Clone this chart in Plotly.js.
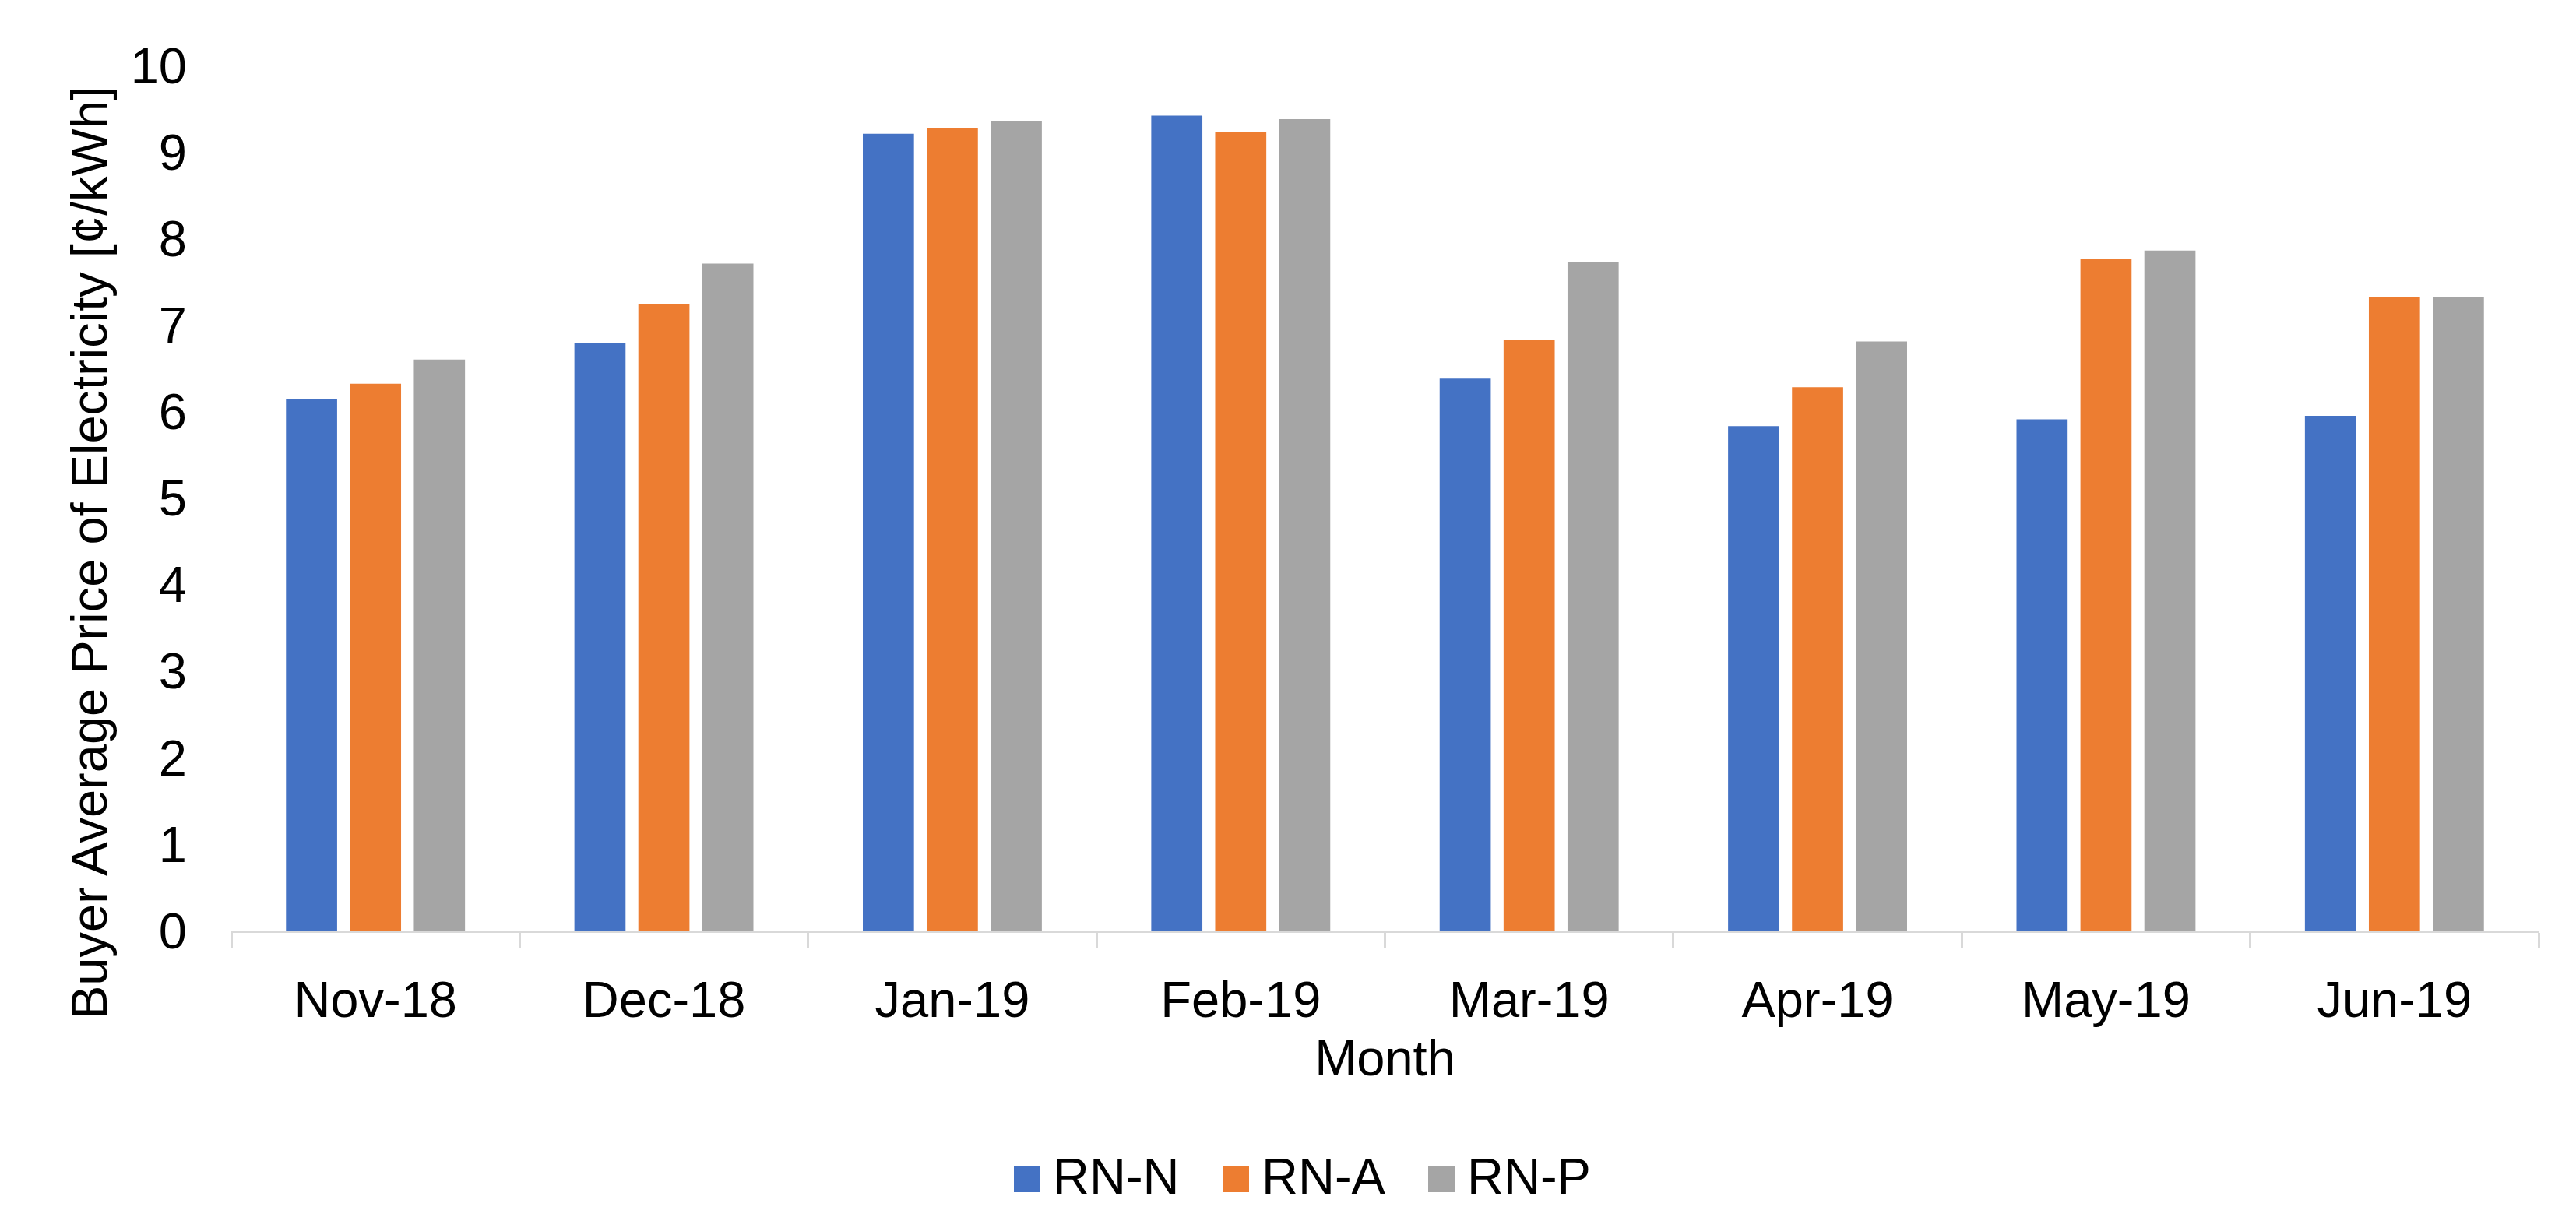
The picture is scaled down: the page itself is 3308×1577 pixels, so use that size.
<!DOCTYPE html>
<html>
<head>
<meta charset="utf-8">
<script src="https://cdn.plot.ly/plotly-3.0.1.min.js"></script>
<style>html,body{margin:0;padding:0;background:#fff;}#chart{width:3308px;height:1577px;}</style>
</head>
<body>
<div id="chart"></div>
<script>
const months = ["Nov-18","Dec-18","Jan-19","Feb-19","Mar-19","Apr-19","May-19","Jun-19"];
const rnN = [6.14, 6.79, 9.21, 9.42, 6.38, 5.83, 5.91, 5.95];
const rnA = [6.32, 7.24, 9.28, 9.23, 6.83, 6.28, 7.76, 7.32];
const rnP = [6.60, 7.71, 9.36, 9.38, 7.73, 6.81, 7.86, 7.32];
const seriesNames = ["RN-N","RN-A","RN-P"];
const colors = ["#4472C4","#ED7D31","#A5A5A5"];
const yTicks = [0,1,2,3,4,5,6,7,8,9,10];
const yTitle = "Buyer Average Price of Electricity [¢/kWh]";
const xTitle = "Month";

const W = 3308, H = 1577;
const M = {l: 297, r: 48, t: 84, b: 382};
const PW = W - M.l - M.r, PH = H - M.t - M.b;
const px = X => (X - M.l) / PW;          // pixel -> paper x
const py = Y => (H - M.b - Y) / PH;      // pixel -> paper y

const font = "Liberation Sans, Arial, sans-serif";
const FS = 65;

const data = [rnN, rnA, rnP].map((vals, i) => ({
  type: "bar", x: months, y: vals, name: seriesNames[i],
  marker: {color: colors[i]}, showlegend: false
}));

// legend drawn as shapes + text (Excel-sized square keys)
const legX = [1302, 1570, 1834];
const shapes = [], annotations = [];
seriesNames.forEach((nm, i) => {
  shapes.push({type: "rect", xref: "paper", yref: "paper",
    x0: px(legX[i]), x1: px(legX[i] + 34), y0: py(1531), y1: py(1497),
    fillcolor: colors[i], line: {width: 0}});
  annotations.push({xref: "paper", yref: "paper", x: px(legX[i] + 48), y: py(1510),
    xanchor: "left", yanchor: "middle", showarrow: false, text: nm,
    font: {family: font, size: FS, color: "#000"}});
});
annotations.push({xref: "paper", yref: "paper", x: px(114), y: py(710),
  xanchor: "center", yanchor: "middle", showarrow: false, textangle: -90,
  text: yTitle, font: {family: font, size: FS, color: "#000"}});

const layout = {
  width: W, height: H,
  paper_bgcolor: "#fff", plot_bgcolor: "#fff",
  margin: M,
  font: {family: font, size: FS, color: "#000"},
  barmode: "group", bargap: 0.335, bargroupgap: 0.2,
  showlegend: false,
  shapes: shapes, annotations: annotations,
  xaxis: {
    type: "category", showgrid: false, zeroline: false,
    showline: true, linecolor: "#d9d9d9", linewidth: 3,
    ticks: "outside", tickson: "boundaries", ticklen: 20, tickcolor: "#d9d9d9", tickwidth: 3,
    ticklabelstandoff: 30,
    tickfont: {family: font, size: FS, color: "#000"},
    title: {text: xTitle, font: {family: font, size: FS, color: "#000"}, standoff: 17}
  },
  yaxis: {
    range: [0, 10], tickvals: yTicks, showgrid: false, zeroline: false, showline: false,
    ticks: "", ticklabelstandoff: 56,
    tickfont: {family: font, size: FS, color: "#000"}
  }
};
Plotly.newPlot("chart", data, layout, {displayModeBar: false, staticPlot: true});
</script>
</body>
</html>
